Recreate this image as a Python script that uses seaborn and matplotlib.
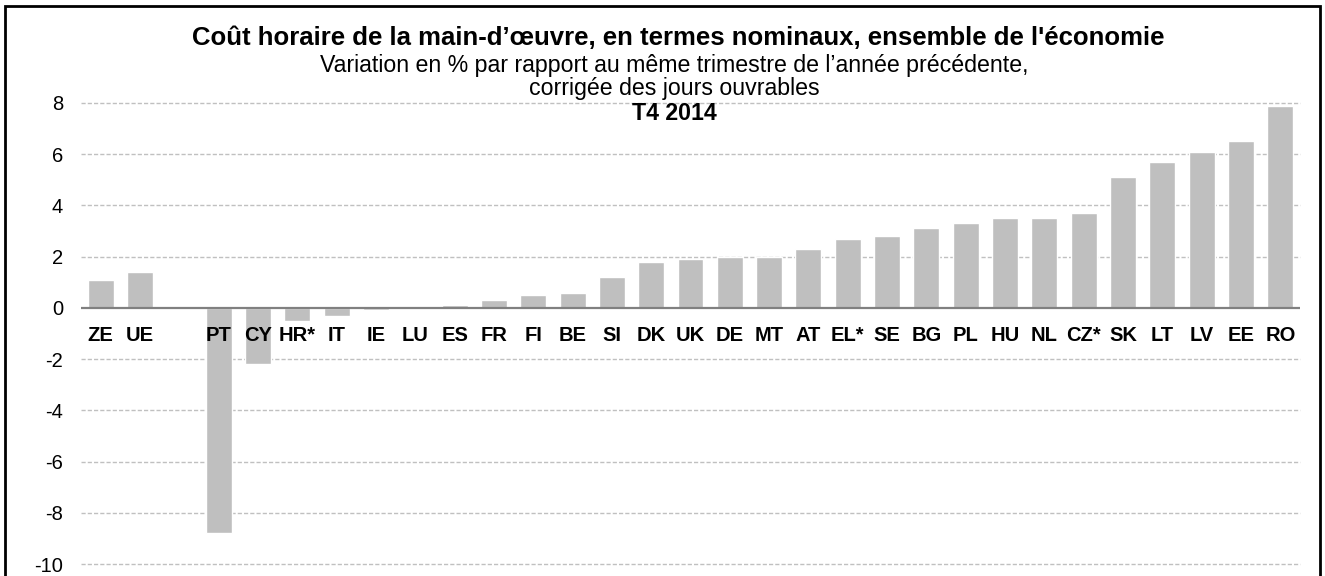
import numpy as np
import pandas as pd
import matplotlib
matplotlib.use("Agg")
import matplotlib.pyplot as plt
import seaborn as sns
from matplotlib.patches import Rectangle

categories = ["ZE", "UE", "", "PT", "CY", "HR*", "IT", "IE", "LU", "ES", "FR", "FI", "BE",
              "SI", "DK", "UK", "DE", "MT", "AT", "EL*", "SE", "BG", "PL", "HU", "NL",
              "CZ*", "SK", "LT", "LV", "EE", "RO"]
values = [1.1, 1.4, np.nan, -8.8, -2.2, -0.5, -0.3, -0.1, 0.0, 0.1, 0.3, 0.5, 0.6,
          1.2, 1.8, 1.9, 2.0, 2.0, 2.3, 2.7, 2.8, 3.1, 3.3, 3.5, 3.5,
          3.7, 5.1, 5.7, 6.1, 6.5, 7.9]
yticks = [8, 6, 4, 2, 0, -2, -4, -6, -8, -10]

title = "Coût horaire de la main-d’œuvre, en termes nominaux, ensemble de l'économie"
subtitle1 = "Variation en % par rapport au même trimestre de l’année précédente,"
subtitle2 = "corrigée des jours ouvrables"
subtitle3 = "T4 2014"

sns.set_theme(style="white")
plt.rcParams["font.family"] = ["Liberation Sans", "DejaVu Sans"]
plt.rcParams["text.color"] = "black"

df = pd.DataFrame({"cat": categories, "val": values})

fig = plt.figure(figsize=(13.25, 5.76), dpi=100)
ax = fig.add_axes([81 / 1325, 1 - 564 / 576, (1300 - 81) / 1325, (564 - 103) / 576])

sns.barplot(data=df.dropna(), x="cat", y="val", order=categories, color="#bfbfbf",
            saturation=1, width=0.66, ax=ax, zorder=3)

ax.set_xlim(-0.5, len(categories) - 0.5)
ax.set_ylim(-10, 8)
ax.set_yticks(yticks)
ax.set_yticklabels([str(t) for t in yticks], fontsize=14.5, color="black")
ax.tick_params(axis="y", length=0, pad=13, labelcolor="black")
ax.set_xticks([])
ax.set_xlabel("")
ax.set_ylabel("")
for s in ax.spines.values():
    s.set_visible(False)

for t in yticks:
    if t == 0:
        ax.axhline(0, color="#808080", lw=1.6, zorder=4)
    else:
        ax.axhline(t, color="#c0c0c0", lw=1.0, ls=(0, (3, 1.5)), zorder=1, clip_on=False)

for i, c in enumerate(categories):
    if c:
        ax.text(i, -1.07, c, ha="center", va="center", fontsize=14.5,
                fontweight="bold", color="black", zorder=5)

cx = 678 / 1325
fig.text(cx, 1 - 38 / 576, title, ha="center", va="center", fontsize=18.5, fontweight="bold")
fig.text(cx - 0.003, 1 - 65.5 / 576, subtitle1, ha="center", va="center", fontsize=16.7)
fig.text(cx - 0.003, 1 - 89 / 576, subtitle2, ha="center", va="center", fontsize=16.7)
fig.text(cx - 0.003, 1 - 113 / 576, subtitle3, ha="center", va="center", fontsize=16.7, fontweight="bold")

fig.patches.append(Rectangle((5 / 1325, -0.05), 1315 / 1325, 1.05 - 6 / 576,
                             transform=fig.transFigure, fill=False, edgecolor="black", lw=2))

fig.savefig("out.png", dpi=100)
